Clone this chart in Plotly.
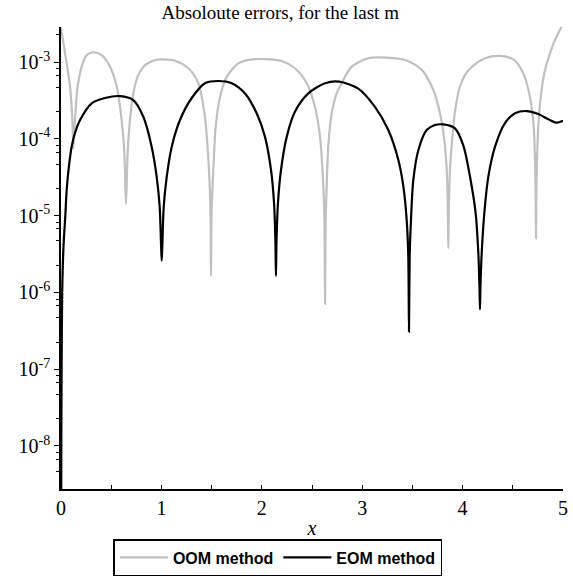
import plotly.graph_objects as go

# ---- data ----
oom_x = [0.0, 0.04, 0.09, 0.113, 0.123, 0.139, 0.166, 0.206, 0.256, 0.32, 0.405, 0.488, 0.555, 0.604,
         0.631, 0.647, 0.664, 0.687, 0.72, 0.77, 0.837, 0.936, 1.02, 1.135, 1.268, 1.368, 1.434, 1.474,
         1.488, 1.494, 1.500, 1.517, 1.541, 1.584, 1.65, 1.766, 1.9, 2.03, 2.198, 2.33, 2.447, 2.53, 2.58,
         2.613, 2.624, 2.63, 2.636, 2.646, 2.662, 2.696, 2.746, 2.795, 2.895, 3.06, 3.244, 3.426, 3.593,
         3.709, 3.775, 3.818, 3.842, 3.853, 3.858, 3.863, 3.874, 3.898, 3.931, 3.974, 4.024, 4.09, 4.223,
         4.372, 4.505, 4.605, 4.671, 4.708, 4.721, 4.728, 4.731, 4.734, 4.741, 4.754, 4.778, 4.821, 4.871,
         4.92, 4.99, 5.0]
oom_y = [2.8e-3, 1.3e-3, 4.8e-4, 1.76e-4, 7.5e-5, 1.76e-4, 4.8e-4, 8.7e-4, 1.23e-3, 1.34e-3, 1.23e-3,
         8.7e-4, 4.8e-4, 1.76e-4, 6.5e-5, 1.42e-5, 6.5e-5, 1.76e-4, 3.9e-4, 6.8e-4, 9.1e-4, 1.06e-3,
         1.08e-3, 1.04e-3, 8.3e-4, 5.3e-4, 1.9e-4, 3.9e-5, 1.2e-5, 1.64e-6, 1.2e-5, 3.9e-5, 1.44e-4,
         3.5e-4, 6.4e-4, 9.6e-4, 1.08e-3, 1.09e-3, 1.03e-3, 8.3e-4, 5.3e-4, 2.6e-4, 1.06e-4, 2.4e-5,
         8.5e-6, 7.1e-7, 8.5e-6, 2.4e-5, 7.9e-5, 2.15e-4, 3.9e-4, 5.3e-4, 8.7e-4, 1.12e-3, 1.14e-3,
         1.06e-3, 7.9e-4, 4.3e-4, 2.15e-4, 9.6e-5, 3.9e-5, 1.2e-5, 3.8e-6, 1.2e-5, 3.9e-5, 1.06e-4,
         2.6e-4, 4.8e-4, 6.8e-4, 8.6e-4, 1.12e-3, 1.2e-3, 1.08e-3, 7.1e-4, 3.5e-4, 1.44e-4, 5.3e-5,
         1.6e-5, 5.06e-6, 1.6e-5, 5.3e-5, 1.44e-4, 3.5e-4, 7.9e-4, 1.3e-3, 1.93e-3, 2.95e-3, 3.1e-3]

eom_x = [0.0, 0.003, 0.006, 0.012, 0.025, 0.043, 0.057, 0.08, 0.107, 0.14, 0.19, 0.306, 0.438, 0.588,
         0.72, 0.82, 0.903, 0.953, 0.983, 0.997, 1.003, 1.009, 1.023, 1.053, 1.103, 1.185, 1.302, 1.434,
         1.567, 1.7, 1.833, 1.949, 2.032, 2.092, 2.122, 2.135, 2.141, 2.147, 2.161, 2.191, 2.248, 2.33,
         2.463, 2.63, 2.77, 2.961, 3.127, 3.26, 3.36, 3.41, 3.443, 3.459, 3.466, 3.473, 3.486, 3.509,
         3.559, 3.642, 3.725, 3.808, 3.924, 4.007, 4.074, 4.13, 4.157, 4.168, 4.173, 4.178, 4.19, 4.216,
         4.256, 4.323, 4.422, 4.522, 4.638, 4.754, 4.854, 4.937, 4.99, 5.0]
eom_y = [1e-12, 1e-8, 1e-7, 1e-6, 4e-6, 1e-5, 2.2e-5, 4.5e-5, 8e-5, 1.2e-4, 1.76e-4, 2.9e-4, 3.4e-4,
         3.6e-4, 3.2e-4, 1.94e-4, 7.9e-5, 3.2e-5, 1.3e-5, 4e-6, 2.59e-6, 4e-6, 1.3e-5, 3.2e-5, 7.9e-5,
         1.76e-4, 3.4e-4, 5.3e-4, 5.66e-4, 5.3e-4, 3.9e-4, 2.15e-4, 1.06e-4, 3.9e-5, 1.45e-5, 5e-6,
         1.64e-6, 5e-6, 1.45e-5, 3.9e-5, 1.06e-4, 2.25e-4, 3.9e-4, 5.3e-4, 5.55e-4, 4.5e-4, 2.6e-4,
         1.3e-4, 5.3e-5, 2.4e-5, 8.8e-6, 3e-6, 3.08e-7, 3e-6, 8.8e-6, 2.9e-5, 7.1e-5, 1.3e-4, 1.51e-4,
         1.54e-4, 1.37e-4, 8.2e-5, 3.2e-5, 1.07e-5, 3.2e-6, 1.2e-6, 6.0e-7, 1.2e-6, 3.2e-6, 1.07e-5,
         3.2e-5, 7.9e-5, 1.6e-4, 2.15e-4, 2.3e-4, 2.1e-4, 1.8e-4, 1.62e-4, 1.7e-4, 1.7e-4]

series_names = ["OOM method", "EOM method"]
title_text = "Absoloute errors, for the last m"
x_ticks = [0, 1, 2, 3, 4, 5]
y_exponents = [-8, -7, -6, -5, -4, -3]
minor_mantissas = [2.25, 4.7, 6.7, 8.2]

serif = "Liberation Serif, Times New Roman, serif"
sans = "Liberation Sans, Arial, sans-serif"

fig = go.Figure()
fig.add_trace(go.Scatter(x=oom_x, y=oom_y, mode="lines", name=series_names[0],
                         line=dict(color="#c0c0c0", width=2.2, shape="spline", smoothing=0.8)))
fig.add_trace(go.Scatter(x=eom_x, y=eom_y, mode="lines", name=series_names[1],
                         line=dict(color="#000000", width=2.2, shape="spline", smoothing=0.8)))

y_tickvals = [10.0 ** e for e in y_exponents]
y_ticktext = ["10<sup>-%d</sup>" % (-e) for e in y_exponents]
minor_vals = [m * 10.0 ** e for e in range(-9, -2) for m in minor_mantissas]

fig.update_layout(
    width=573, height=576,
    margin=dict(l=61, r=10, t=27, b=87, autoexpand=False),
    paper_bgcolor="white", plot_bgcolor="white",
    title=dict(text=title_text, x=0.489, xanchor="center", y=0.978, yanchor="middle",
               xref="container", yref="container",
               font=dict(family=serif, size=19, color="black")),
    showlegend=True,
    legend=dict(orientation="h", xref="container", yref="container",
                x=0.485, xanchor="center", y=0.0, yanchor="bottom",
                bordercolor="black", borderwidth=1.5, bgcolor="white",
                font=dict(family=sans, size=16, color="black", weight="bold"),
                itemwidth=48, tracegroupgap=0),
)
fig.update_xaxes(
    range=[0, 5], showgrid=False, zeroline=False, automargin=False,
    showline=True, linecolor="black", linewidth=1.5,
    tickmode="array", tickvals=x_ticks, ticktext=[str(t) for t in x_ticks],
    ticks="inside", ticklen=4, tickcolor="black", tickwidth=1,
    minor=dict(ticks="inside", tickvals=[0.5, 1.5, 2.5, 3.5, 4.5], ticklen=4, tickcolor="black"),
    tickfont=dict(family=serif, size=20, color="black"),
    title=dict(text="<i>x</i>", font=dict(family=serif, size=20, color="black"), standoff=6),
)
fig.update_yaxes(
    type="log", range=[-8.56, -2.544], showgrid=False, zeroline=False, automargin=False,
    showline=True, linecolor="black", linewidth=1.5,
    tickmode="array", tickvals=y_tickvals, ticktext=y_ticktext,
    ticks="outside", ticklen=5, tickcolor="black", tickwidth=1,
    minor=dict(ticks="outside", tickvals=minor_vals, ticklen=3, tickcolor="black"),
    tickfont=dict(family=serif, size=20, color="black"),
)

fig.write_html("out.html", config={"displayModeBar": False},
               post_script="document.body.style.margin='0px';document.body.style.overflow='hidden';")
